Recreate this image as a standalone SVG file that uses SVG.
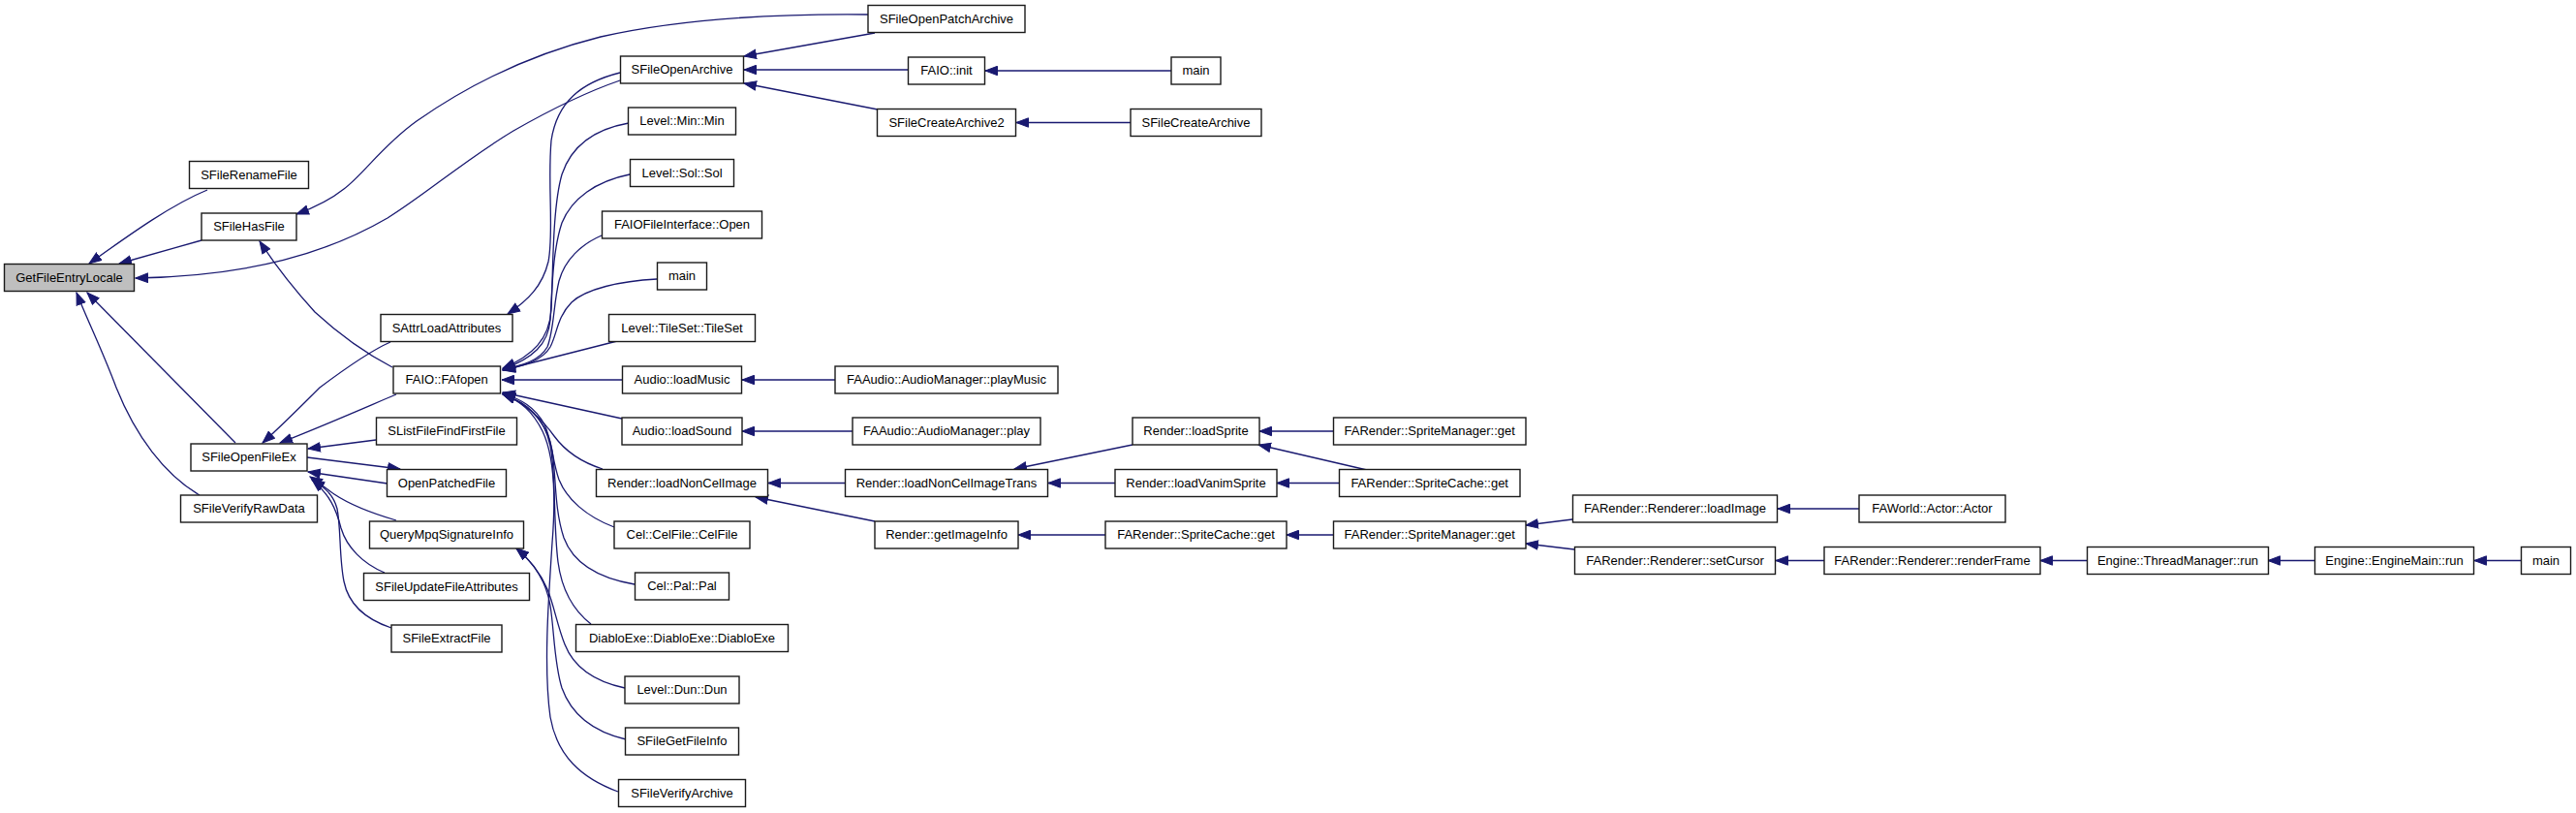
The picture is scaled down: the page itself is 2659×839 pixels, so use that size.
<svg xmlns="http://www.w3.org/2000/svg" width="2659" height="839" viewBox="0 0 2659 839">
<style>
.node rect{fill:#ffffff;stroke:#1a1a1a;stroke-width:1.4}
.node.root rect{fill:#bfbfbf}
.node text{font-family:"Liberation Sans",Arial,sans-serif;font-size:13px;text-anchor:middle;fill:#000}
.edges path{fill:none;stroke:#191970;stroke-width:1.3;marker-end:url(#arr)}
</style>
<defs>
<marker id="arr" markerUnits="userSpaceOnUse" markerWidth="14" markerHeight="11" viewBox="0 0 14 11" refX="13" refY="5.5" orient="auto">
<path d="M0.5,0.8 L13,5.5 L0.5,10.2 z" fill="#191970" stroke="#191970" stroke-width="1"/>
</marker>
</defs>
<rect width="2659" height="839" fill="#ffffff"/>
<g id="edges" class="edges">
<path d="M214,196 C175,212 130,245 92,272"/>
<path d="M208,248 L123,272"/>
<path d="M640,83 C605,95 565,115 530,135 C480,165 440,200 400,225 C340,260 260,285 140,287"/>
<path d="M896,15 C800,14 700,20 620,38 C540,58 480,90 430,125 C395,150 375,180 355,195 C340,207 325,214 306,221"/>
<path d="M903,34 L768,58"/>
<path d="M937,72 L768,72"/>
<path d="M906,113 L768,86"/>
<path d="M1209,73 L1017,73"/>
<path d="M1167,126.5 L1049,126.5"/>
<path d="M405,379 C380,366 350,345 325,322 C305,300 285,275 268,249"/>
<path d="M640,75 C600,85 575,105 569,145 C565,190 572,240 566,270 C560,295 545,310 524,324"/>
<path d="M403,353 C380,363 350,385 330,400 C310,420 290,440 271,457"/>
<path d="M409,407 C385,417 340,437 289,457"/>
<path d="M243,457 L90,302"/>
<path d="M206,511 C170,490 140,450 120,400 C105,360 90,330 79,302"/>
<path d="M388,454 L318,463"/>
<path d="M317,472 L413,484"/>
<path d="M400,499 L318,487"/>
<path d="M409,537 C385,530 360,520 345,510 C335,503 328,497 320,492"/>
<path d="M397,591 C375,582 358,565 352,545 C347,525 340,510 322,495"/>
<path d="M404,648 C380,640 360,625 355,600 C350,575 352,545 348,525 C344,510 335,503 322,495"/>
<path d="M649,127 C615,133 590,150 580,180 C570,215 571,280 569,320 C567,350 550,367 519,380"/>
<path d="M650,180 C615,187 590,205 580,230 C570,260 570,300 568,330 C566,355 550,370 519,381"/>
<path d="M621,243 C600,252 583,268 577,290 C571,315 572,340 565,358 C557,372 540,377 519,381"/>
<path d="M678,288 C640,290 605,298 590,312 C575,327 575,345 568,358 C560,372 540,378 519,382"/>
<path d="M637,352 L519,382"/>
<path d="M642,392 L518,392"/>
<path d="M642,432 L519,405"/>
<path d="M622,484 C600,477 583,465 572,450 C560,433 545,418 519,406"/>
<path d="M634,544 C605,533 585,515 577,495 C570,475 570,455 562,438 C552,420 538,412 519,406"/>
<path d="M655,603 C620,597 592,582 582,555 C572,525 574,490 570,465 C566,440 550,418 519,407"/>
<path d="M610,644 C592,630 580,610 576,580 C571,540 574,490 568,460 C562,432 545,415 519,407"/>
<path d="M638,817 C600,803 575,780 568,740 C561,690 566,620 570,560 C574,510 572,470 560,445 C550,425 538,414 519,407"/>
<path d="M645,710 C612,703 592,688 583,665 C575,645 572,625 565,608 C558,592 548,578 533,566"/>
<path d="M646,763 C612,755 590,738 580,710 C572,685 572,650 568,625 C564,600 550,580 533,566"/>
<path d="M862,392 L766,392"/>
<path d="M880,445 L766,445"/>
<path d="M872,498.5 L793,498.5"/>
<path d="M903,538 L780,513"/>
<path d="M1169,459 L1047,484"/>
<path d="M1151,498.5 L1082,498.5"/>
<path d="M1141,552 L1051,552"/>
<path d="M1376,445 L1300,445"/>
<path d="M1411,485 L1299,459"/>
<path d="M1382,498.5 L1318,498.5"/>
<path d="M1376,552 L1328,552"/>
<path d="M1623,536 L1575,542"/>
<path d="M1625,567 L1575,561"/>
<path d="M1919,525 L1835,525"/>
<path d="M1883,578.5 L1833,578.5"/>
<path d="M2154,578.5 L2106,578.5"/>
<path d="M2389,578.5 L2341,578.5"/>
<path d="M2602,578.5 L2554,578.5"/>
</g>
<g id="GetFileEntryLocale" class="node root"><rect x="4.5" y="272.5" width="134" height="28"/><text x="71.5" y="290.5">GetFileEntryLocale</text></g>
<g id="SFileRenameFile" class="node"><rect x="195.5" y="166.5" width="123" height="28"/><text x="257" y="184.5">SFileRenameFile</text></g>
<g id="SFileHasFile" class="node"><rect x="208" y="220" width="98" height="28"/><text x="257" y="238">SFileHasFile</text></g>
<g id="SFileOpenFileEx" class="node"><rect x="197" y="458" width="120" height="28"/><text x="257" y="476">SFileOpenFileEx</text></g>
<g id="SFileVerifyRawData" class="node"><rect x="186.5" y="511" width="141" height="28"/><text x="257" y="529">SFileVerifyRawData</text></g>
<g id="SAttrLoadAttributes" class="node"><rect x="393" y="324.5" width="136" height="28"/><text x="461" y="342.5">SAttrLoadAttributes</text></g>
<g id="FAIO_FAfopen" class="node"><rect x="406" y="378" width="110.5" height="28"/><text x="461.2" y="396">FAIO::FAfopen</text></g>
<g id="SListFileFindFirstFile" class="node"><rect x="388.5" y="431" width="145" height="28"/><text x="461" y="449">SListFileFindFirstFile</text></g>
<g id="OpenPatchedFile" class="node"><rect x="399.5" y="484.5" width="123" height="28"/><text x="461" y="502.5">OpenPatchedFile</text></g>
<g id="QueryMpqSignatureInfo" class="node"><rect x="381.5" y="538" width="159" height="28"/><text x="461" y="556">QueryMpqSignatureInfo</text></g>
<g id="SFileUpdateFileAttributes" class="node"><rect x="375.5" y="591.5" width="171" height="28"/><text x="461" y="609.5">SFileUpdateFileAttributes</text></g>
<g id="SFileExtractFile" class="node"><rect x="404" y="645" width="114" height="28"/><text x="461" y="663">SFileExtractFile</text></g>
<g id="SFileOpenPatchArchive" class="node"><rect x="896" y="5.5" width="162" height="28"/><text x="977" y="23.5">SFileOpenPatchArchive</text></g>
<g id="SFileOpenArchive" class="node"><rect x="640.5" y="58" width="127" height="28"/><text x="704" y="76">SFileOpenArchive</text></g>
<g id="FAIO_init" class="node"><rect x="937.5" y="59" width="79" height="28"/><text x="977" y="77">FAIO::init</text></g>
<g id="SFileCreateArchive2" class="node"><rect x="905.5" y="112.5" width="143" height="28"/><text x="977" y="130.5">SFileCreateArchive2</text></g>
<g id="main_top" class="node"><rect x="1209" y="59" width="51" height="28"/><text x="1234.5" y="77">main</text></g>
<g id="SFileCreateArchive" class="node"><rect x="1167" y="112.5" width="135" height="28"/><text x="1234.5" y="130.5">SFileCreateArchive</text></g>
<g id="Level_Min_Min" class="node"><rect x="648.5" y="111" width="111" height="28"/><text x="704" y="129">Level::Min::Min</text></g>
<g id="Level_Sol_Sol" class="node"><rect x="650.5" y="164.5" width="107" height="28"/><text x="704" y="182.5">Level::Sol::Sol</text></g>
<g id="FAIOFileInterface_Open" class="node"><rect x="621.5" y="218" width="165" height="28"/><text x="704" y="236">FAIOFileInterface::Open</text></g>
<g id="main_mid" class="node"><rect x="678.5" y="271" width="51" height="28"/><text x="704" y="289">main</text></g>
<g id="Level_TileSet_TileSet" class="node"><rect x="628.5" y="324.5" width="151" height="28"/><text x="704" y="342.5">Level::TileSet::TileSet</text></g>
<g id="Audio_loadMusic" class="node"><rect x="642.5" y="378" width="123" height="28"/><text x="704" y="396">Audio::loadMusic</text></g>
<g id="FAAudio_playMusic" class="node"><rect x="862" y="378" width="230" height="28"/><text x="977" y="396">FAAudio::AudioManager::playMusic</text></g>
<g id="Audio_loadSound" class="node"><rect x="642" y="431" width="124" height="28"/><text x="704" y="449">Audio::loadSound</text></g>
<g id="FAAudio_play" class="node"><rect x="880" y="431" width="194" height="28"/><text x="977" y="449">FAAudio::AudioManager::play</text></g>
<g id="Render_loadNonCelImage" class="node"><rect x="615.5" y="484.5" width="177" height="28"/><text x="704" y="502.5">Render::loadNonCelImage</text></g>
<g id="Render_loadNonCelImageTrans" class="node"><rect x="872.5" y="484.5" width="209" height="28"/><text x="977" y="502.5">Render::loadNonCelImageTrans</text></g>
<g id="Render_getImageInfo" class="node"><rect x="903" y="538" width="148" height="28"/><text x="977" y="556">Render::getImageInfo</text></g>
<g id="Cel_CelFile_CelFile" class="node"><rect x="634" y="538" width="140" height="28"/><text x="704" y="556">Cel::CelFile::CelFile</text></g>
<g id="Cel_Pal_Pal" class="node"><rect x="655.5" y="591" width="97" height="28"/><text x="704" y="609">Cel::Pal::Pal</text></g>
<g id="DiabloExe" class="node"><rect x="594.5" y="644.5" width="219" height="28"/><text x="704" y="662.5">DiabloExe::DiabloExe::DiabloExe</text></g>
<g id="Level_Dun_Dun" class="node"><rect x="645" y="698" width="118" height="28"/><text x="704" y="716">Level::Dun::Dun</text></g>
<g id="SFileGetFileInfo" class="node"><rect x="645.5" y="751" width="117" height="28"/><text x="704" y="769">SFileGetFileInfo</text></g>
<g id="SFileVerifyArchive" class="node"><rect x="638.5" y="804.5" width="131" height="28"/><text x="704" y="822.5">SFileVerifyArchive</text></g>
<g id="Render_loadSprite" class="node"><rect x="1169" y="431" width="131" height="28"/><text x="1234.5" y="449">Render::loadSprite</text></g>
<g id="SpriteManager_get_top" class="node"><rect x="1376.5" y="431" width="198.5" height="28"/><text x="1475.7" y="449">FARender::SpriteManager::get</text></g>
<g id="Render_loadVanimSprite" class="node"><rect x="1151" y="484.5" width="167" height="28"/><text x="1234.5" y="502.5">Render::loadVanimSprite</text></g>
<g id="SpriteCache_get_right" class="node"><rect x="1382.5" y="484.5" width="186.5" height="28"/><text x="1475.7" y="502.5">FARender::SpriteCache::get</text></g>
<g id="SpriteCache_get_left" class="node"><rect x="1141" y="538" width="187" height="28"/><text x="1234.5" y="556">FARender::SpriteCache::get</text></g>
<g id="SpriteManager_get_mid" class="node"><rect x="1376.5" y="538" width="198.5" height="28"/><text x="1475.7" y="556">FARender::SpriteManager::get</text></g>
<g id="Renderer_loadImage" class="node"><rect x="1623.5" y="511" width="211" height="28"/><text x="1729" y="529">FARender::Renderer::loadImage</text></g>
<g id="Renderer_setCursor" class="node"><rect x="1625.5" y="564.5" width="207" height="28"/><text x="1729" y="582.5">FARender::Renderer::setCursor</text></g>
<g id="FAWorld_Actor_Actor" class="node"><rect x="1919" y="511" width="151" height="28"/><text x="1994.5" y="529">FAWorld::Actor::Actor</text></g>
<g id="Renderer_renderFrame" class="node"><rect x="1883" y="564.5" width="223" height="28"/><text x="1994.5" y="582.5">FARender::Renderer::renderFrame</text></g>
<g id="ThreadManager_run" class="node"><rect x="2154.5" y="564.5" width="187" height="28"/><text x="2248" y="582.5">Engine::ThreadManager::run</text></g>
<g id="EngineMain_run" class="node"><rect x="2389.5" y="564.5" width="164" height="28"/><text x="2471.5" y="582.5">Engine::EngineMain::run</text></g>
<g id="main_right" class="node"><rect x="2602.5" y="564.5" width="51" height="28"/><text x="2628" y="582.5">main</text></g>
</svg>
